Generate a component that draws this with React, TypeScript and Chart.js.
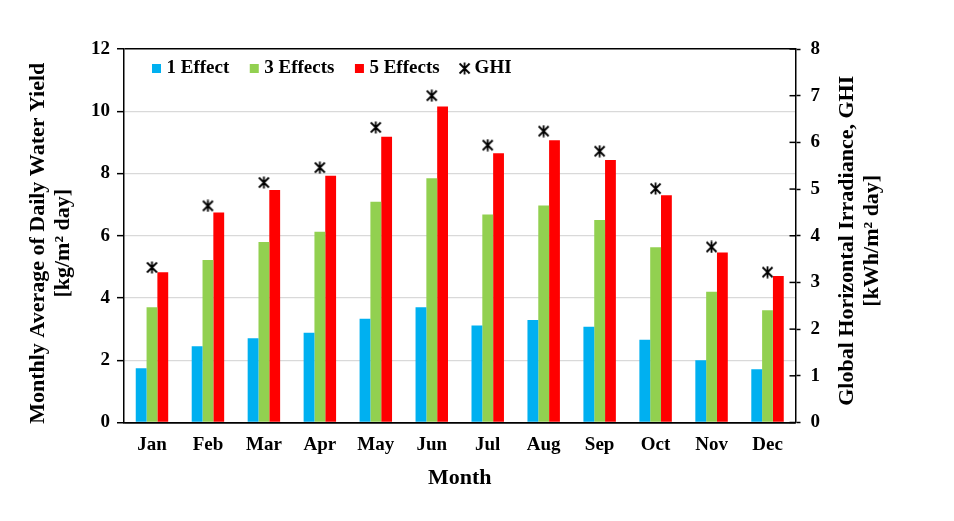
import React, { useEffect, useRef } from "react";
import { Chart, registerables } from "chart.js";

Chart.register(...registerables);

const months = ["Jan", "Feb", "Mar", "Apr", "May", "Jun", "Jul", "Aug", "Sep", "Oct", "Nov", "Dec"];
const effect1 = [1.74, 2.45, 2.71, 2.88, 3.33, 3.7, 3.12, 3.29, 3.08, 2.66, 2.0, 1.71];
const effect3 = [3.7, 5.22, 5.8, 6.13, 7.09, 7.85, 6.68, 6.97, 6.51, 5.63, 4.2, 3.61];
const effect5 = [4.83, 6.75, 7.47, 7.93, 9.18, 10.15, 8.65, 9.07, 8.43, 7.3, 5.46, 4.71];
const ghi = [3.32, 4.64, 5.14, 5.46, 6.32, 7.0, 5.94, 6.24, 5.81, 5.01, 3.76, 3.22];

const seriesLabels = ["1 Effect", "3 Effects", "5 Effects", "GHI"];
const leftTitle = ["Monthly Average of Daily Water Yield", "[kg/m\u00B2 day]"];
const rightTitle = ["Global Horizontal Irradiance, GHI", "[kWh/m\u00B2 day]"];
const xTitle = "Month";
const leftRange = { min: 0, max: 12, step: 2 };
const rightRange = { min: 0, max: 8, step: 1 };

const FONT = '"Liberation Serif", "Times New Roman", serif';

function makeMarker(): HTMLCanvasElement {
  const c = document.createElement("canvas");
  c.width = 13;
  c.height = 13;
  const ctx = c.getContext("2d")!;
  ctx.strokeStyle = "#000";
  ctx.lineWidth = 1.8;
  ctx.lineCap = "butt";
  ctx.beginPath();
  ctx.moveTo(1.5, 1.5);
  ctx.lineTo(11.5, 11.5);
  ctx.moveTo(11.5, 1.5);
  ctx.lineTo(1.5, 11.5);
  ctx.moveTo(6.5, 0.5);
  ctx.lineTo(6.5, 12.5);
  ctx.stroke();
  return c;
}

function drawVerticalTitle(ctx: CanvasRenderingContext2D, lines: string[], x0: number, cy: number) {
  lines.forEach((line, i) => {
    ctx.save();
    ctx.translate(x0 + i * 25, cy);
    ctx.rotate(-Math.PI / 2);
    ctx.fillText(line, 0, 0);
    ctx.restore();
  });
}

export default function App() {
  const ref = useRef<HTMLCanvasElement | null>(null);

  useEffect(() => {
    if (!ref.current) return;
    const marker = makeMarker();

    const decorPlugin = {
      id: "decor",
      afterDraw(chart: any) {
        const { ctx, chartArea } = chart;
        const y1 = chart.scales.y1;
        ctx.save();
        // inner tick marks on right axis
        ctx.strokeStyle = "#000";
        ctx.lineWidth = 1.5;
        y1.ticks.forEach((t: any) => {
          const py = y1.getPixelForValue(t.value);
          ctx.beginPath();
          ctx.moveTo(chartArea.right - 6, py);
          ctx.lineTo(chartArea.right, py);
          ctx.stroke();
        });
        // axis titles (both read bottom-to-top)
        ctx.fillStyle = "#000";
        ctx.font = `bold 22px ${FONT}`;
        ctx.textAlign = "center";
        ctx.textBaseline = "middle";
        const mid = (chartArea.top + chartArea.bottom) / 2;
        drawVerticalTitle(ctx, leftTitle, chartArea.left - 86, mid + 7.5);
        drawVerticalTitle(ctx, rightTitle, chartArea.right + 51.5, mid + 5);
        // legend inside plot area
        ctx.font = `bold 19px ${FONT}`;
        ctx.textAlign = "left";
        let x = chartArea.left + 28;
        const ly = chartArea.top + 19.5;
        chart.data.datasets.forEach((ds: any) => {
          if (ds.type === "line") {
            ctx.drawImage(marker, x + 4.5 - marker.width / 2, ly - marker.height / 2);
          } else {
            ctx.fillStyle = ds.backgroundColor;
            ctx.fillRect(x, ly - 4.5, 9, 9);
          }
          ctx.fillStyle = "#000";
          const tx = x + 14.5;
          ctx.fillText(ds.label, tx, ly);
          x = tx + ctx.measureText(ds.label).width + 20.5;
        });
        ctx.restore();
      },
    };

    const chart = new Chart(ref.current, {
      type: "bar",
      data: {
        labels: months,
        datasets: [
          {
            label: seriesLabels[0],
            data: effect1,
            backgroundColor: "#00B0F0",
            yAxisID: "y",
            order: 1,
            barPercentage: 1,
            categoryPercentage: 0.58,
          },
          {
            label: seriesLabels[1],
            data: effect3,
            backgroundColor: "#92D050",
            yAxisID: "y",
            order: 1,
            barPercentage: 1,
            categoryPercentage: 0.58,
          },
          {
            label: seriesLabels[2],
            data: effect5,
            backgroundColor: "#FF0000",
            yAxisID: "y",
            order: 1,
            barPercentage: 1,
            categoryPercentage: 0.58,
          },
          {
            type: "line",
            label: seriesLabels[3],
            data: ghi,
            yAxisID: "y1",
            showLine: false,
            pointStyle: marker,
            pointRadius: 6,
            borderColor: "#000",
            backgroundColor: "#000",
            order: 0,
          } as any,
        ],
      },
      options: {
        responsive: false,
        animation: false,
        layout: { padding: { left: 0, right: 0, top: 41, bottom: 0 } },
        plugins: {
          legend: { display: false },
          tooltip: { enabled: false },
        },
        scales: {
          x: {
            type: "category",
            grid: { display: false, drawTicks: false },
            border: { display: true, color: "#000", width: 1.5 },
            ticks: {
              color: "#000",
              padding: 11,
              font: { family: FONT, size: 19, weight: "bold" },
            },
            title: {
              display: true,
              text: xTitle,
              color: "#000",
              font: { family: FONT, size: 22, weight: "bold", lineHeight: 1.15 },
              padding: { top: 0, bottom: 22 },
            },
            afterFit: (s: any) => {
              s.height = 90.5;
            },
          },
          y: {
            position: "left",
            min: leftRange.min,
            max: leftRange.max,
            ticks: {
              stepSize: leftRange.step,
              color: "#000",
              padding: 7,
              font: { family: FONT, size: 19, weight: "bold" },
            },
            grid: {
              color: (c: any) =>
                c.tick && (c.tick.value === leftRange.max || c.tick.value === leftRange.min) ? "#000" : "#d9d9d9",
              lineWidth: (c: any) =>
                c.tick && (c.tick.value === leftRange.max || c.tick.value === leftRange.min) ? 1.5 : 1.3,
              tickColor: "#000",
              tickLength: 7,
              tickWidth: 1.5,
            },
            border: { display: true, color: "#000", width: 1.5 },
            title: { display: false },
            afterFit: (s: any) => {
              s.width = 116;
            },
          },
          y1: {
            position: "right",
            min: rightRange.min,
            max: rightRange.max,
            ticks: {
              stepSize: rightRange.step,
              color: "#000",
              padding: 10,
              font: { family: FONT, size: 19, weight: "bold" },
            },
            grid: {
              drawOnChartArea: false,
              tickColor: "#000",
              tickLength: 5,
              tickWidth: 1.5,
            },
            border: { display: true, color: "#000", width: 1.5 },
            afterFit: (s: any) => {
              s.width = 150.5;
            },
          },
        },
      },
      plugins: [decorPlugin],
    });

    return () => chart.destroy();
  }, []);

  return (
    <div style={{ width: 938, height: 505 }}>
      <canvas ref={ref} width={938} height={505} style={{ display: "block" }} />
    </div>
  );
}
